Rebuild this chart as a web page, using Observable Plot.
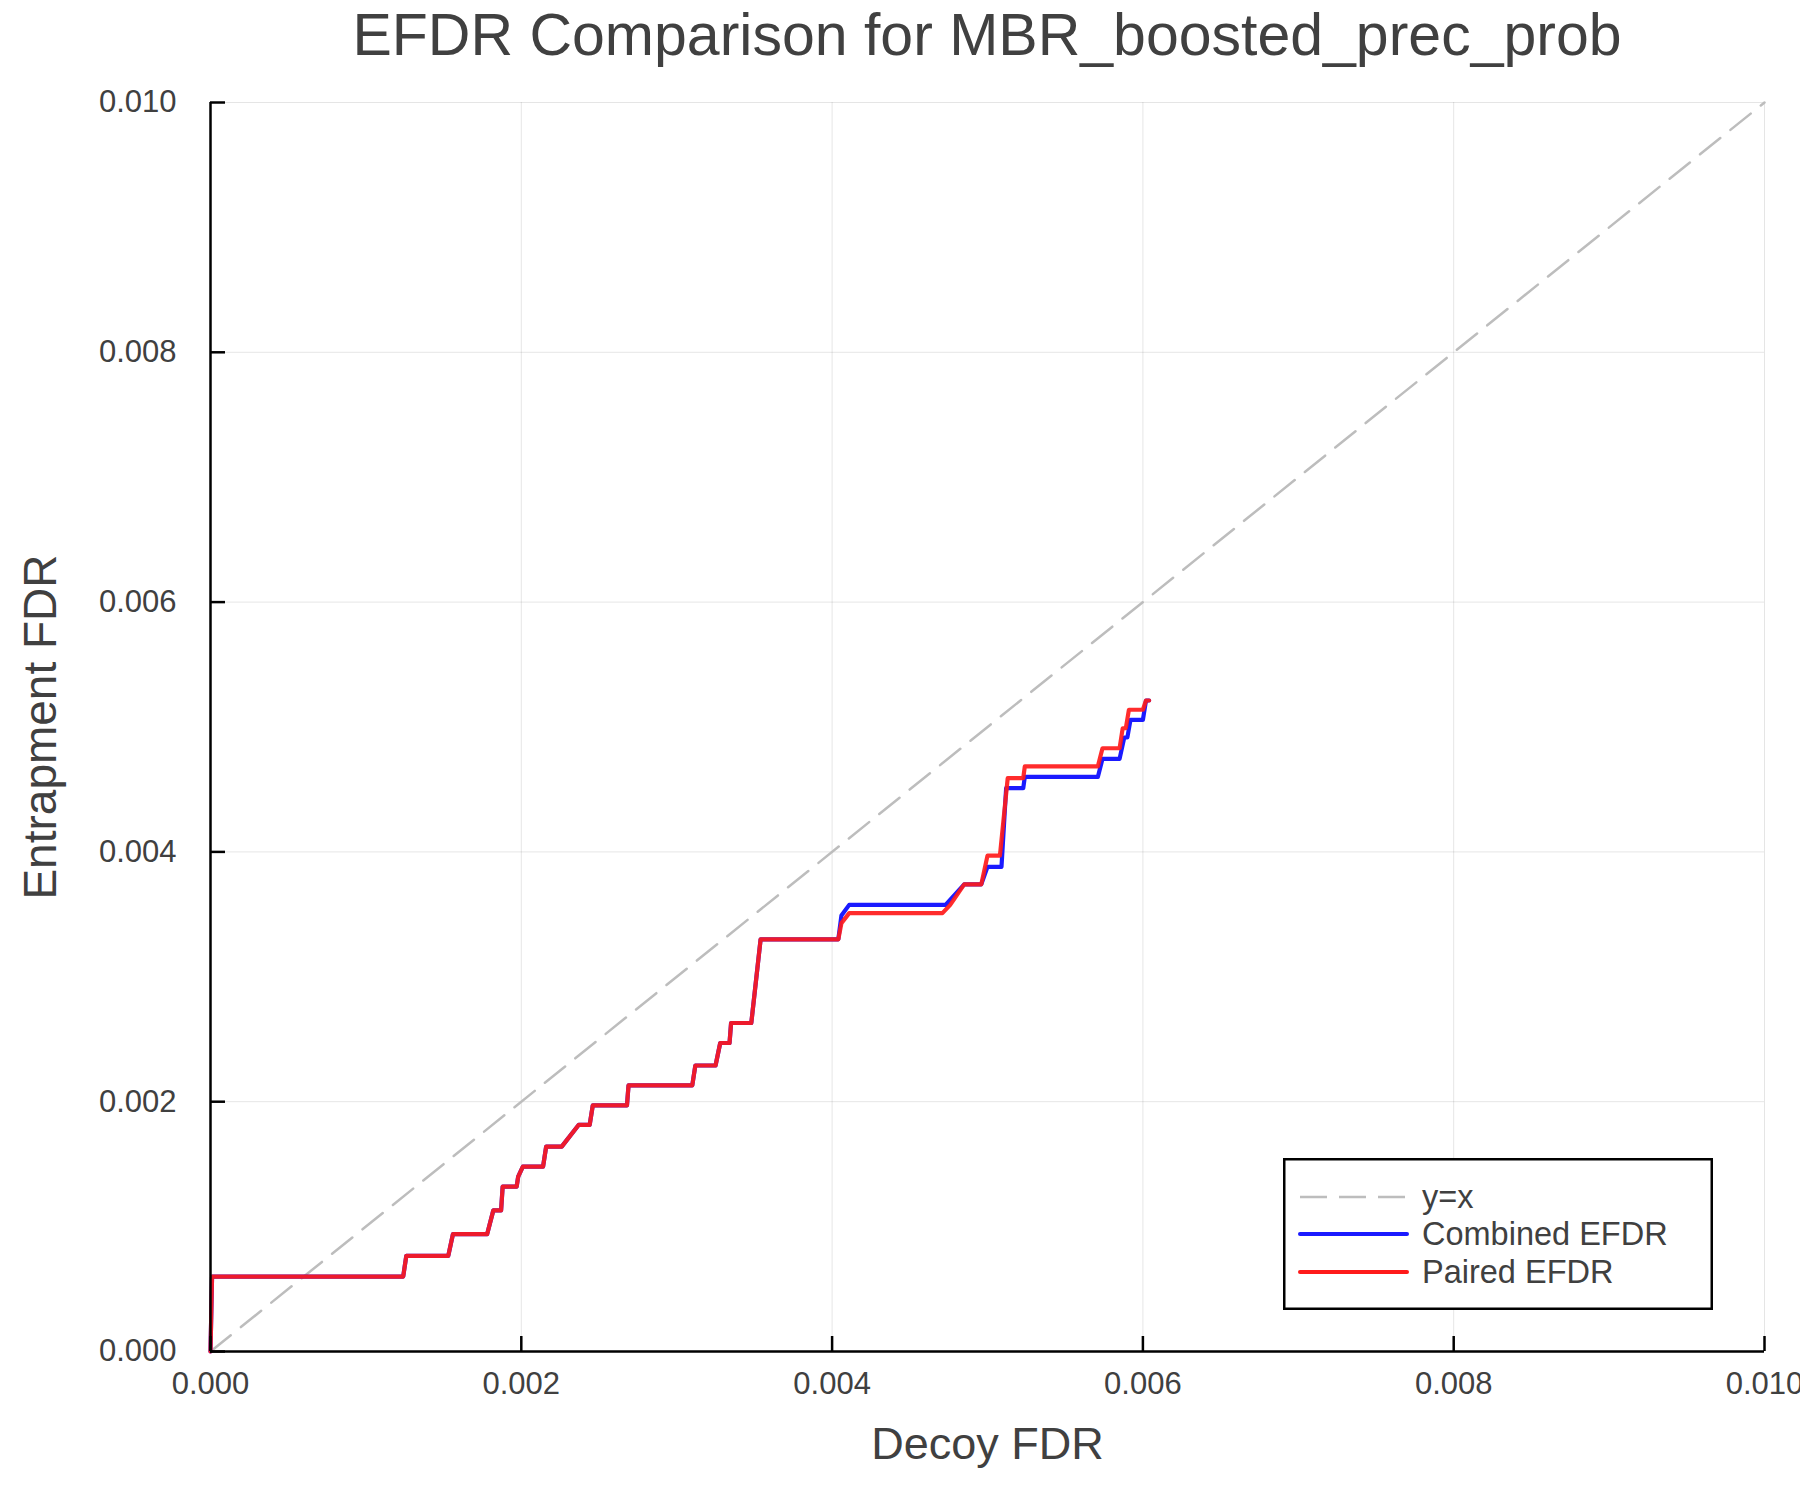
<!DOCTYPE html>
<html>
<head>
<meta charset="utf-8">
<script src="https://cdn.jsdelivr.net/npm/d3@7"></script>
<script src="https://cdn.jsdelivr.net/npm/@observablehq/plot@0.6"></script>
<style>
  body { margin: 0; background: #fff; }
  #wrap { position: relative; width: 1800px; height: 1500px; font-family: "Liberation Sans", Arial, Helvetica, sans-serif; }
  #title { height: 70px; line-height: 70px; padding-left: 210px; width: 1554px; text-align: center; font-size: 59px; color: #404040; white-space: nowrap; }
  #legend { position: absolute; left: 1283px; top: 1158px; }
  #ylabel { position: absolute; left: 0; top: 0; pointer-events: none; }
</style>
</head>
<body>
<div id="wrap">
  <div id="title">EFDR Comparison for MBR_boosted_prec_prob</div>
  <div id="chart"></div>
  <div id="legend"></div>
  <div id="ylabel"></div>
</div>
<script>
// Decoy FDR (x) and entrapment FDR (y) for each series
const combinedX = [0, 0.00001, 0.00124, 0.00126, 0.00153, 0.00156, 0.00178, 0.00182, 0.00187, 0.00188, 0.00197, 0.00198, 0.00201, 0.00214, 0.00216, 0.00226, 0.00237, 0.00244, 0.00246, 0.00268, 0.00269, 0.0031, 0.00312, 0.00325, 0.00328, 0.00334, 0.00335, 0.00348, 0.00354, 0.00404,
  0.00406, 0.00411, 0.00473, 0.00485, 0.00496, 0.00500, 0.00509, 0.00512, 0.00523, 0.00524, 0.00571, 0.00574, 0.00585, 0.00588, 0.0059, 0.00592, 0.0060, 0.00602, 0.00604];
const combinedY = [0, 0.0006, 0.0006, 0.000766, 0.000766, 0.000939, 0.000939, 0.00113, 0.00113, 0.00132, 0.00132, 0.0014, 0.00148, 0.00148, 0.00164, 0.00164, 0.001815, 0.001815, 0.00197, 0.00197, 0.00213, 0.00213, 0.00229, 0.00229, 0.00247, 0.00247, 0.00263, 0.00263, 0.0033, 0.0033,
  0.00349, 0.003576, 0.003576, 0.00374, 0.00374, 0.00388, 0.00388, 0.00451, 0.00451, 0.0046, 0.0046, 0.004745, 0.004745, 0.004916, 0.004916, 0.005057, 0.005057, 0.005212, 0.005212];
const pairedX = [0, 0.00001, 0.00124, 0.00126, 0.00153, 0.00156, 0.00178, 0.00182, 0.00187, 0.00188, 0.00197, 0.00198, 0.00201, 0.00214, 0.00216, 0.00226, 0.00237, 0.00244, 0.00246, 0.00268, 0.00269, 0.0031, 0.00312, 0.00325, 0.00328, 0.00334, 0.00335, 0.00348, 0.00354, 0.00404,
  0.00406, 0.00411, 0.00471, 0.00476, 0.00485, 0.00496, 0.00500, 0.00508, 0.00513, 0.00523, 0.00524, 0.00571, 0.00574, 0.00585, 0.00587, 0.00589, 0.00591, 0.0060, 0.00602, 0.00604];
const pairedY = [0, 0.0006, 0.0006, 0.000766, 0.000766, 0.000939, 0.000939, 0.00113, 0.00113, 0.00132, 0.00132, 0.0014, 0.00148, 0.00148, 0.00164, 0.00164, 0.001815, 0.001815, 0.00197, 0.00197, 0.00213, 0.00213, 0.00229, 0.00229, 0.00247, 0.00247, 0.00263, 0.00263, 0.0033, 0.0033,
  0.00343, 0.00351, 0.00351, 0.003576, 0.00374, 0.00374, 0.00397, 0.00397, 0.00459, 0.00459, 0.004684, 0.004684, 0.00483, 0.00483, 0.00499, 0.00499, 0.005138, 0.005138, 0.005212, 0.005212];
const diagonal = [0, 0.01];
const ticks = [0, 0.002, 0.004, 0.006, 0.008, 0.010];
const seriesNames = ["y=x", "Combined EFDR", "Paired EFDR"];
const seriesColors = ["#bdbdbd", "#1a1aff", "#ff1a1a"];

const combined = combinedX.map((x, i) => ({x, y: combinedY[i]}));
const paired = pairedX.map((x, i) => ({x, y: pairedY[i]}));
const fmt = d3.format(".3f");
const textColor = "#404040";
const fontFamily = '"Liberation Sans", Arial, Helvetica, sans-serif';

const chart = Plot.plot({
  width: 1800,
  height: 1430,
  marginTop: 32,
  marginBottom: 149,
  marginLeft: 210,
  marginRight: 36,
  style: {fontFamily, background: "#fff"},
  x: {domain: [0, 0.01], ticks},
  y: {domain: [0, 0.01], ticks},
  marks: [
    Plot.gridX(ticks, {stroke: "#000", strokeOpacity: 0.1, strokeWidth: 1}),
    Plot.gridY(ticks, {stroke: "#000", strokeOpacity: 0.1, strokeWidth: 1}),
    Plot.line(diagonal, {x: d => d, y: d => d, stroke: seriesColors[0], strokeWidth: 2.5, strokeDasharray: "26,13"}),
    Plot.line(combined, {x: "x", y: "y", stroke: seriesColors[1], strokeWidth: 4.2, strokeLinejoin: "round"}),
    Plot.line(paired, {x: "x", y: "y", stroke: seriesColors[2], strokeWidth: 4.2, strokeOpacity: 0.92, strokeLinejoin: "round"}),
    Plot.ruleY([0], {stroke: "#000", strokeWidth: 2.5}),
    Plot.ruleX([0], {stroke: "#000", strokeWidth: 2.5}),
    Plot.axisX(ticks, {tickSize: -15, tickFormat: () => "", stroke: "#000", strokeWidth: 2.5, label: null}),
    Plot.axisY(ticks, {tickSize: -15, tickFormat: () => "", stroke: "#000", strokeWidth: 2.5, label: null}),
    Plot.axisX(ticks, {tickSize: 0, tickPadding: 20, tickFormat: fmt, fontSize: 31, fill: textColor, label: null}),
    Plot.axisY(ticks, {tickSize: 0, tickPadding: 34, tickFormat: fmt, fontSize: 31, fill: textColor, label: null}),
    Plot.text(["Decoy FDR"], {text: d => d, frameAnchor: "bottom", dy: 93, lineAnchor: "middle", fontSize: 45, fill: textColor})
  ]
});
document.getElementById("chart").appendChild(chart);

// Y axis title
const yl = d3.select("#ylabel").append("svg").attr("width", 90).attr("height", 1500);
yl.append("text").attr("transform", "translate(40,727) rotate(-90)")
  .attr("text-anchor", "middle").attr("dy", "0.35em")
  .attr("font-size", 46).attr("fill", textColor).attr("font-family", fontFamily)
  .text("Entrapment FDR");

// Legend box
const lw = 430, lh = 152;
const leg = d3.select("#legend").append("svg").attr("width", lw).attr("height", lh);
leg.append("rect").attr("x", 1.25).attr("y", 1.25).attr("width", lw - 2.5).attr("height", lh - 2.5)
  .attr("fill", "#fff").attr("stroke", "#000").attr("stroke-width", 2.5);
const rowY = [39, 76, 114];
seriesNames.forEach((name, i) => {
  leg.append("line").attr("x1", 17).attr("x2", 124).attr("y1", rowY[i]).attr("y2", rowY[i])
    .attr("stroke", seriesColors[i]).attr("stroke-width", i === 0 ? 2.5 : 4)
    .attr("stroke-linecap", i === 0 ? "butt" : "round")
    .attr("stroke-dasharray", i === 0 ? "27,12" : null);
  leg.append("text").attr("x", 139).attr("y", rowY[i]).attr("dy", "0.35em")
    .attr("font-size", 32.5).attr("fill", textColor)
    .attr("font-family", fontFamily)
    .text(name);
});
</script>
</body>
</html>
